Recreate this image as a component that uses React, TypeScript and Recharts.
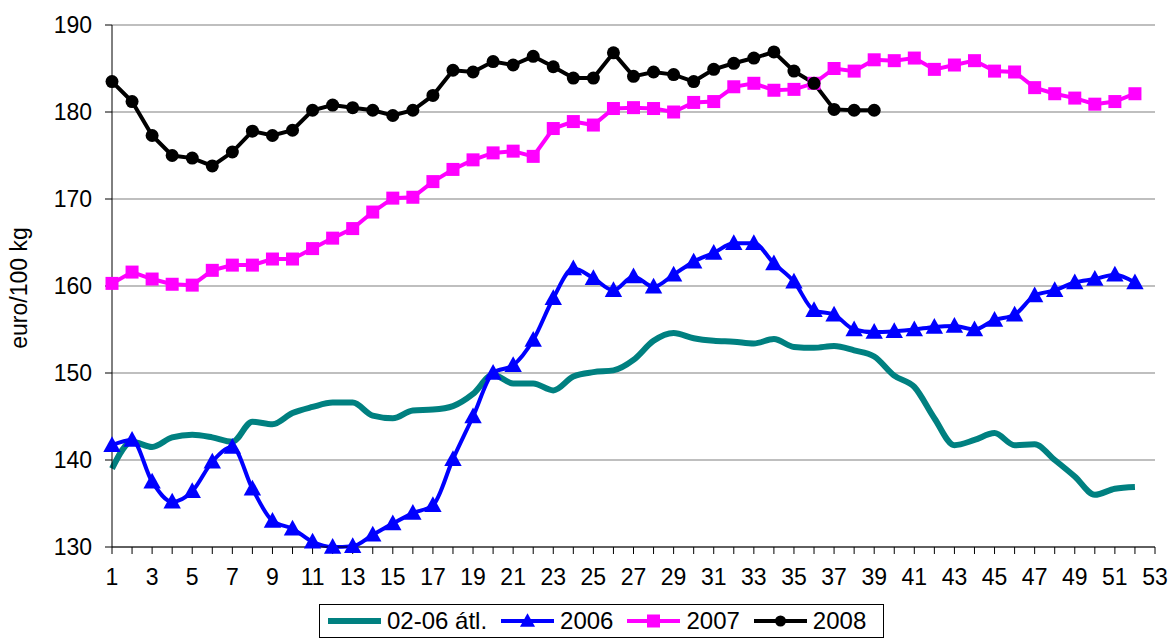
import React from 'react';
import { LineChart, Line, XAxis, YAxis, CartesianGrid, Legend } from 'recharts';

const weeks = Array.from({ length: 52 }, (_, i) => i + 1);

const avg0206 = [
  139.0, 142.1, 141.5, 142.6, 142.9, 142.6, 142.1, 144.4, 144.1, 145.4,
  146.1, 146.6, 146.6, 145.1, 144.8, 145.7, 145.8, 146.2, 147.6, 149.8,
  148.8, 148.8, 148.0, 149.6, 150.1, 150.3, 151.5, 153.7, 154.6, 154.0,
  153.7, 153.6, 153.4, 153.9, 153.0, 152.9, 153.1, 152.6, 151.9, 149.7,
  148.4, 144.8, 141.7, 142.3, 143.1, 141.7, 141.8, 140.0, 138.1, 136.0,
  136.7, 136.9,
];

const y2006 = [
  141.7, 142.3, 137.5, 135.2, 136.4, 139.8, 141.5, 136.7, 133.0, 132.1,
  130.6, 130.0, 130.1, 131.4, 132.7, 133.9, 134.8, 140.1, 145.0, 150.0,
  150.9, 153.8, 158.6, 162.0, 160.9, 159.5, 161.1, 159.9, 161.3, 162.8,
  163.8, 164.9, 164.9, 162.6, 160.5, 157.2, 156.7, 155.0, 154.7, 154.8,
  155.0, 155.3, 155.4, 155.0, 156.1, 156.7, 158.9, 159.5, 160.4, 160.8,
  161.3, 160.4,
];

const y2007 = [
  160.3, 161.6, 160.8, 160.2, 160.1, 161.8, 162.4, 162.4, 163.1, 163.1,
  164.3, 165.5, 166.6, 168.5, 170.1, 170.2, 172.0, 173.4, 174.5, 175.3,
  175.5, 174.9, 178.1, 178.9, 178.5, 180.4, 180.5, 180.4, 180.0, 181.1,
  181.2, 182.9, 183.3, 182.5, 182.6, 183.3, 185.0, 184.7, 186.0, 185.9,
  186.2, 184.9, 185.4, 185.9, 184.7, 184.6, 182.8, 182.1, 181.6, 180.9,
  181.2, 182.1,
];

const y2008 = [
  183.5, 181.2, 177.3, 175.0, 174.7, 173.8, 175.4, 177.8, 177.3, 177.9,
  180.2, 180.8, 180.5, 180.2, 179.6, 180.2, 181.9, 184.8, 184.6, 185.8,
  185.4, 186.4, 185.2, 183.9, 183.9, 186.8, 184.1, 184.6, 184.3, 183.5,
  184.9, 185.6, 186.2, 186.9, 184.7, 183.3, 180.3, 180.2, 180.2,
];

const xTicks = Array.from({ length: 53 }, (_, i) => i + 1);
const yTicks = [130, 140, 150, 160, 170, 180, 190];

const series = [
  { key: 'avg', name: '02-06 átl.', color: '#008080', marker: 'none' },
  { key: 'y2006', name: '2006', color: '#0000FF', marker: 'triangle' },
  { key: 'y2007', name: '2007', color: '#FF00FF', marker: 'square' },
  { key: 'y2008', name: '2008', color: '#000000', marker: 'circle' },
];

const data = weeks.map((w, i) => ({
  week: w,
  avg: avg0206[i],
  y2006: y2006[i],
  y2007: y2007[i],
  y2008: i < y2008.length ? y2008[i] : null,
}));

const FONT = '"Liberation Sans", Arial, sans-serif';

const Marker = ({ type, cx, cy, color, size }: { type: string; cx: number; cy: number; color: string; size: number }) => {
  if (type === 'triangle') {
    const h = size;
    return (
      <polygon
        points={`${cx},${cy - h * 0.6} ${cx - h * 0.58},${cy + h * 0.45} ${cx + h * 0.58},${cy + h * 0.45}`}
        fill={color}
      />
    );
  }
  if (type === 'square') {
    return <rect x={cx - size / 2} y={cy - size / 2} width={size} height={size} fill={color} />;
  }
  if (type === 'circle') {
    return <circle cx={cx} cy={cy} r={size / 2} fill={color} />;
  }
  return null;
};

const makeDot = (type: string, color: string, size: number) => (props: any) => {
  const { cx, cy, index } = props;
  if (cx == null || cy == null || props.value == null) return <g key={`d-${index}`} />;
  return (
    <g key={`d-${index}`}>
      <Marker type={type} cx={cx} cy={cy} color={color} size={size} />
    </g>
  );
};

const WeekTick = (props: any) => {
  const { x, y, payload } = props;
  if (payload.value % 2 === 0) return <g />;
  return (
    <text x={x} y={y} dy="0.71em" textAnchor="middle" fill="#000" fontSize={23} fontFamily={FONT}>
      {payload.value}
    </text>
  );
};

// y axis title, drawn at a fixed spot left of the tick labels
const YTitle = () => (
  <text
    x={19}
    y={288}
    transform="rotate(-90 19 288)"
    textAnchor="middle"
    dominantBaseline="central"
    fontSize={23}
    fontFamily={FONT}
    fill="#000"
  >
    euro/100 kg
  </text>
);

const LegendBox = () => (
  <div
    style={{
      display: 'flex',
      alignItems: 'center',
      border: '1px solid #000',
      height: 34,
      boxSizing: 'border-box',
      paddingLeft: 8,
      fontFamily: FONT,
      fontSize: 24,
      color: '#000',
      background: '#fff',
      whiteSpace: 'nowrap',
    }}
  >
    {series.map((s) => (
      <div key={s.key} style={{ display: 'flex', alignItems: 'center', marginRight: 14 }}>
        <svg width={53} height={20} style={{ marginRight: 6 }}>
          <line x1={0} y1={10} x2={53} y2={10} stroke={s.color} strokeWidth={s.marker === 'none' ? 6 : 4} />
          <Marker type={s.marker} cx={26.5} cy={10} color={s.color} size={s.marker === 'circle' ? 11 : 13} />
        </svg>
        <span>{s.name}</span>
      </div>
    ))}
  </div>
);

export default function App() {
  return (
    <div style={{ position: 'absolute', left: 0, top: 0, width: 1173, height: 639, background: '#fff' }}>
      <LineChart width={1173} height={639} data={data} margin={{ top: 25, right: 18, bottom: 52, left: 0 }}>
        <CartesianGrid vertical={false} stroke="#808080" strokeWidth={1.2} />
        <XAxis
          dataKey="week"
          type="number"
          domain={[1, 53]}
          ticks={xTicks}
          interval={0}
          height={40}
          tickSize={7}
          tickMargin={15}
          stroke="#000"
          tick={<WeekTick />}
        />
        <YAxis
          type="number"
          domain={[130, 190]}
          ticks={yTicks}
          width={112}
          tickSize={7}
          tickMargin={13}
          stroke="#000"
          tick={{ fontSize: 23, fill: '#000', fontFamily: FONT }}
          label={<YTitle />}
        />
        <Legend
          layout="horizontal"
          verticalAlign="middle"
          align="center"
          wrapperStyle={{ top: 604, left: 319, width: 565, height: 34 }}
          content={<LegendBox />}
        />
        <Line
          type="monotone"
          dataKey="avg"
          name="02-06 átl."
          stroke="#008080"
          strokeWidth={6}
          dot={false}
          activeDot={false}
          isAnimationActive={false}
        />
        <Line
          type="monotone"
          dataKey="y2006"
          name="2006"
          stroke="#0000FF"
          strokeWidth={4}
          dot={makeDot('triangle', '#0000FF', 15)}
          activeDot={false}
          isAnimationActive={false}
        />
        <Line
          type="linear"
          dataKey="y2007"
          name="2007"
          stroke="#FF00FF"
          strokeWidth={4}
          dot={makeDot('square', '#FF00FF', 13)}
          activeDot={false}
          isAnimationActive={false}
        />
        <Line
          type="linear"
          dataKey="y2008"
          name="2008"
          stroke="#000000"
          strokeWidth={4}
          dot={makeDot('circle', '#000000', 13)}
          activeDot={false}
          isAnimationActive={false}
        />
      </LineChart>
    </div>
  );
}
